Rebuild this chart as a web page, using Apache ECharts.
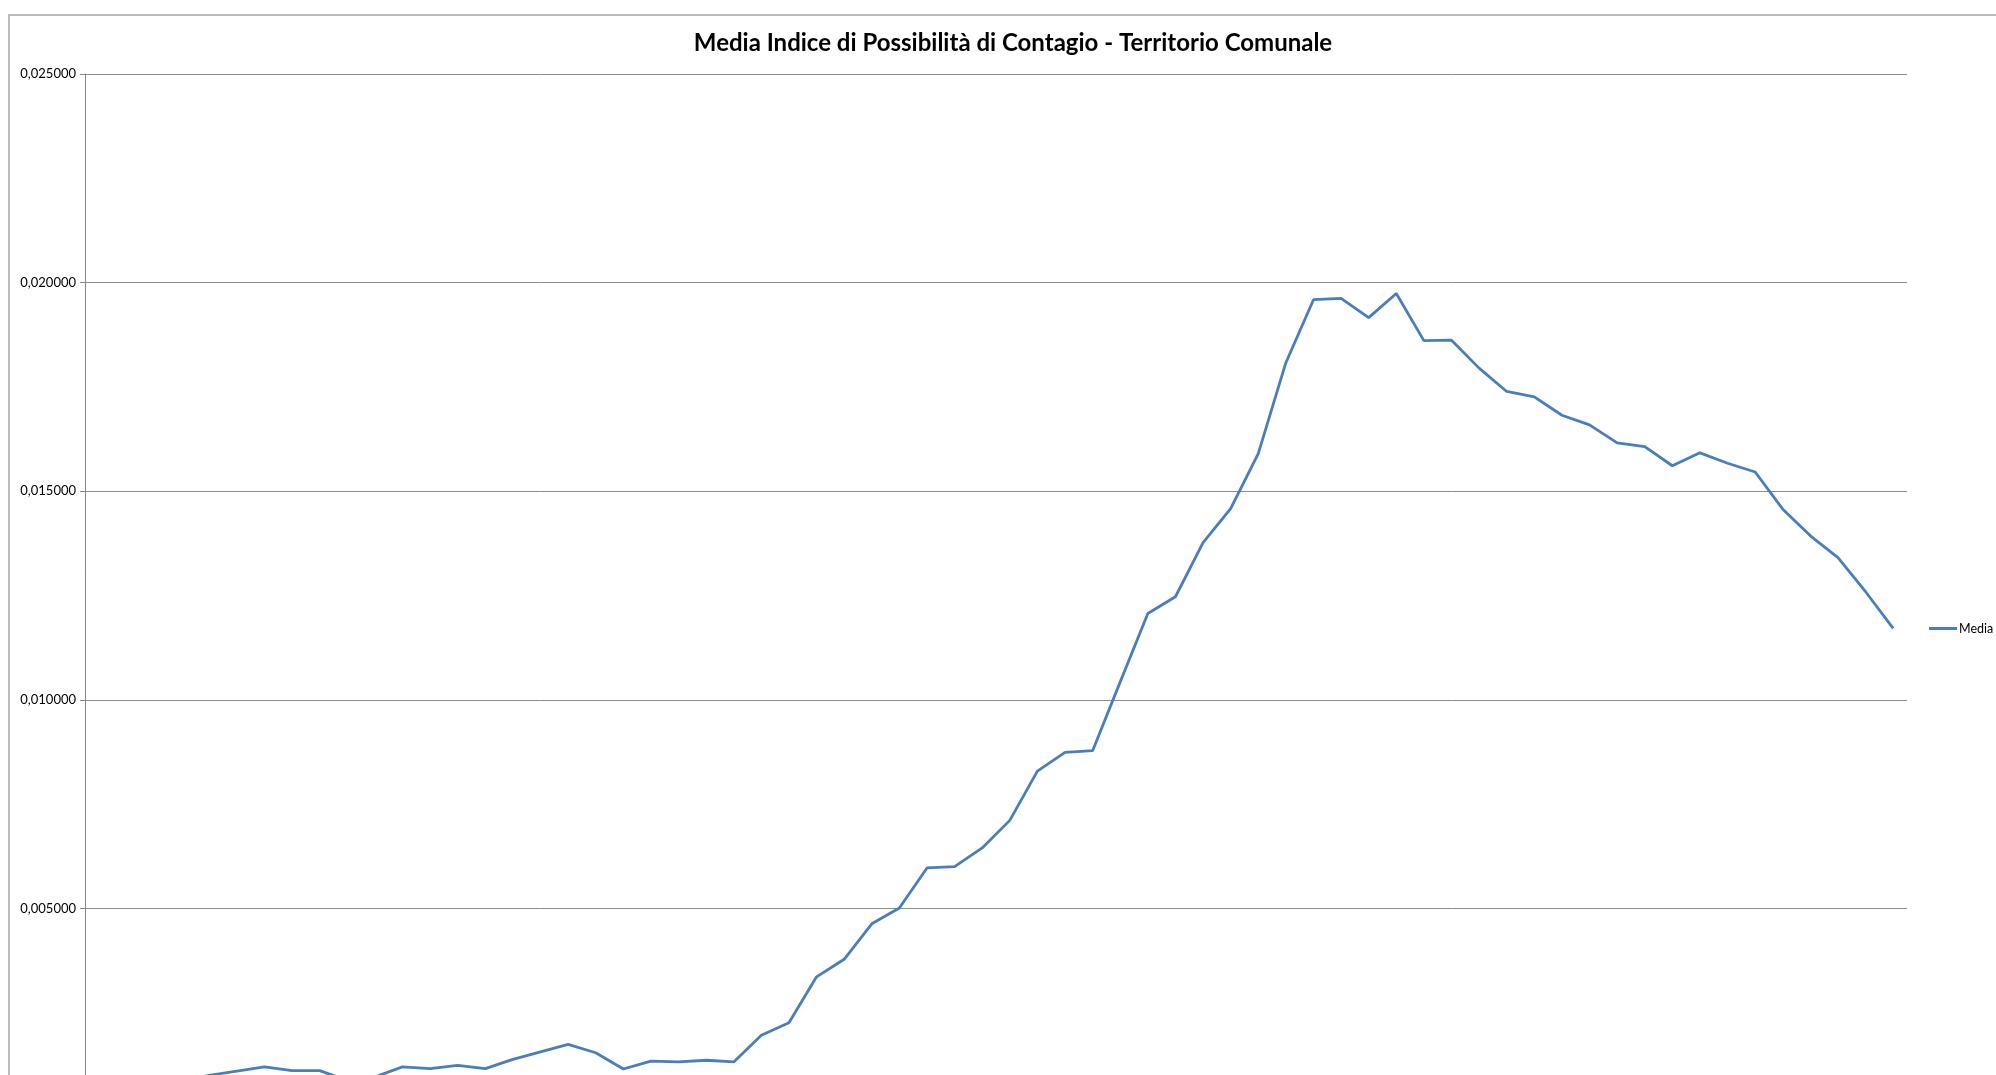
<!DOCTYPE html>
<html>
<head>
<meta charset="utf-8">
<script src="https://cdn.jsdelivr.net/npm/echarts@6/dist/echarts.min.js"></script>
<style>
html,body{margin:0;padding:0;background:#fff;}
#chart{width:1996px;height:1075px;}
</style>
</head>
<body>
<div id="chart"></div>
<script>
const titleText = 'Media Indice di Possibilità di Contagio - Territorio Comunale';
const seriesName = 'Media';
const categories = ['1','2','3','4','5','6','7','8','9','10','11','12','13','14','15','16','17','18','19','20','21','22','23','24','25','26','27','28','29','30','31','32','33','34','35','36','37','38','39','40','41','42','43','44','45','46','47','48','49','50','51','52','53','54','55','56','57','58','59','60','61','62','63','64','65','66'];
const mediaValues = [
  0.00070, 0.00075, 0.00080, 0.00086, 0.00100, 0.00110, 0.00120, 0.00111, 0.00111, 0.00088,
  0.00096, 0.00120, 0.00116, 0.00124, 0.00116, 0.00138, 0.00156, 0.00174, 0.00154, 0.00115,
  0.00134, 0.00132, 0.00136, 0.00132, 0.00196, 0.00226, 0.00336, 0.00378, 0.00463, 0.00501,
  0.00597, 0.00600, 0.00645, 0.00711, 0.00829, 0.00874, 0.00878, 0.01043, 0.01207, 0.01247,
  0.01377, 0.01458, 0.01590, 0.01808, 0.01959, 0.01962, 0.01916, 0.01974, 0.01861, 0.01862,
  0.01795, 0.01739, 0.01726, 0.01682, 0.01659, 0.01616, 0.01607, 0.01561, 0.01592, 0.01567,
  0.01546, 0.01457, 0.01393, 0.01341, 0.01259, 0.01171
];
const yTicks = [0, 0.005, 0.010, 0.015, 0.020, 0.025];

const chart = echarts.init(document.getElementById('chart'));
chart.setOption({
  backgroundColor: '#ffffff',
  animation: false,
  graphic: [{
    type: 'rect',
    shape: { x: 9, y: 15, width: 2100, height: 1200 },
    style: { fill: 'none', stroke: '#a6a6a6', lineWidth: 1.5 },
    silent: true, z: -1
  }],
  title: {
    text: titleText,
    left: 1008, top: 26,
    textAlign: 'center',
    textStyle: { fontFamily: 'Lato', fontWeight: 'bold', fontSize: 24, color: '#000' }
  },
  legend: {
    data: [{ name: seriesName, icon: 'rect' }],
    orient: 'vertical',
    left: 1929, top: 622,
    padding: 0,
    itemWidth: 28, itemHeight: 3, itemGap: 4,
    textStyle: { fontFamily: 'Lato', fontSize: 12.5, color: '#000', padding: [0,0,0,-3] }
  },
  grid: { left: 85, right: 89, top: 74, bottom: -42, outerBoundsMode: 'none', containLabel: false },
  xAxis: {
    type: 'category',
    data: categories,
    boundaryGap: true,
    axisLine: { lineStyle: { color: '#868686' } },
    axisTick: { show: false },
    axisLabel: { show: false },
    splitLine: { show: false }
  },
  yAxis: {
    type: 'value',
    min: yTicks[0], max: yTicks[yTicks.length - 1], interval: 0.005,
    axisLine: { show: true, lineStyle: { color: '#868686', width: 1 } },
    axisTick: { show: true, length: 5, lineStyle: { color: '#868686' } },
    axisLabel: {
      fontFamily: 'Lato', fontSize: 13, color: '#000', margin: 9,
      formatter: v => v.toFixed(6).replace('.', ',')
    },
    splitLine: { show: true, lineStyle: { color: '#8c8c8c', width: 1 } }
  },
  series: [{
    name: seriesName,
    type: 'line',
    data: mediaValues,
    symbol: 'none',
    lineStyle: { color: '#4a7ebb', width: 2.8 },
    itemStyle: { color: '#4a7ebb' }
  }]
});
</script>
</body>
</html>
